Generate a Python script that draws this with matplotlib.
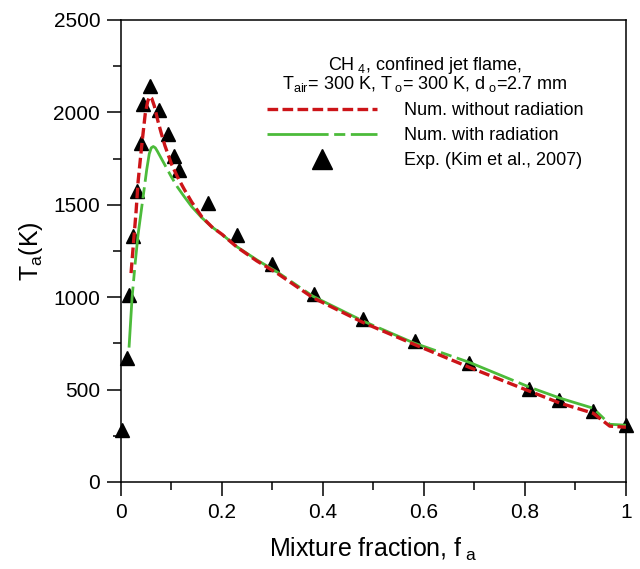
import numpy as np
import matplotlib
matplotlib.use("Agg")
import matplotlib.pyplot as plt
from matplotlib.ticker import MultipleLocator

plt.rcParams['font.family'] = ['Liberation Sans', 'DejaVu Sans']
plt.rcParams['mathtext.fontset'] = 'custom'
plt.rcParams['mathtext.rm'] = 'Liberation Sans'
plt.rcParams['mathtext.it'] = 'Liberation Sans'

# experiment (Kim et al., 2007)
exp_f = [0.002, 0.012, 0.016, 0.024, 0.032, 0.040, 0.044, 0.057, 0.075, 0.093,
         0.105, 0.115, 0.172, 0.230, 0.300, 0.382, 0.479, 0.582, 0.689, 0.808,
         0.867, 0.935, 1.0]
exp_T = [280, 670, 1010, 1330, 1575, 1835, 2045, 2140, 2015, 1880,
         1765, 1690, 1510, 1335, 1180, 1015, 884, 760, 641, 505,
         442, 383, 310]

# numerical, without radiation
norad_f = [0.020, 0.025, 0.030, 0.034, 0.042, 0.048, 0.053, 0.057, 0.061, 0.066,
           0.073, 0.080, 0.087, 0.100, 0.112, 0.125, 0.140, 0.160, 0.180, 0.200,
           0.230, 0.269, 0.309, 0.380, 0.480, 0.580, 0.690, 0.810, 0.870, 0.935,
           0.968, 1.0]
norad_T = [1130, 1300, 1465, 1627, 1843, 1990, 2060, 2085, 2075, 2035,
           1955, 1885, 1820, 1720, 1650, 1585, 1515, 1435, 1380, 1340,
           1270, 1196, 1130, 997, 862, 745, 620, 490, 426, 372,
           302, 296]

# numerical, with radiation
rad_f = [0.016, 0.022, 0.028, 0.034, 0.044, 0.051, 0.056, 0.060, 0.064, 0.068,
         0.072, 0.080, 0.090, 0.100, 0.112, 0.125, 0.140, 0.160, 0.180, 0.200,
         0.230, 0.270, 0.310, 0.380, 0.480, 0.580, 0.690, 0.810, 0.870, 0.935,
         0.968, 1.0]
rad_T = [727, 997, 1180, 1341, 1545, 1690, 1775, 1808, 1815, 1808,
         1790, 1750, 1700, 1650, 1595, 1545, 1490, 1430, 1380, 1340,
         1272, 1200, 1135, 1005, 870, 752, 647, 512, 453, 399,
         312, 307]

fig = plt.figure(figsize=(6.4, 5.69), dpi=100)
ax = fig.add_axes([0.189, 0.153, 0.789, 0.812])

ax.plot(exp_f, exp_T, linestyle='none', marker='^', ms=10, color='black',
        clip_on=False, zorder=2, label='Exp. (Kim et al., 2007)')
ax.plot(rad_f, rad_T, color='#4cbb3a', lw=2.0, dashes=(22, 2, 4, 2),
        zorder=3, label='Num. with radiation')
ax.plot(norad_f, norad_T, color='#cc1418', lw=2.4, dashes=(3.2, 1.3),
        zorder=4, label='Num. without radiation')

ax.set_xlim(0, 1)
ax.set_ylim(0, 2500)
ax.xaxis.set_major_locator(MultipleLocator(0.2))
ax.xaxis.set_minor_locator(MultipleLocator(0.1))
ax.yaxis.set_major_locator(MultipleLocator(500))
ax.yaxis.set_minor_locator(MultipleLocator(250))
ax.set_xticks([0, 0.2, 0.4, 0.6, 0.8, 1.0])
ax.set_xticklabels(['0', '0.2', '0.4', '0.6', '0.8', '1'])
ax.tick_params(which='major', direction='out', length=10, width=1.1, labelsize=15, pad=5)
ax.tick_params(which='minor', direction='out', length=6, width=1.1)
for s in ax.spines.values():
    s.set_linewidth(1.1)

ax.set_xlabel(r'Mixture fraction, f$_{\ \mathrm{a}}$', fontsize=18, labelpad=10)
ax.set_ylabel(r'T$_{\mathrm{a}}$(K)', fontsize=18, labelpad=6)

h, l = ax.get_legend_handles_labels()
order = [2, 1, 0]
title = ('CH$_{\\ 4}$, confined jet flame,\n'
         'T$_{\\mathrm{air}}$= 300 K, T$_{\\ \\mathrm{o}}$= 300 K, d$_{\\ \\mathrm{o}}$=2.7 mm')
leg = ax.legend([h[i] for i in order], [l[i] for i in order], loc='upper left',
                bbox_to_anchor=(0.289, 0.924), frameon=False, fontsize=13,
                title=title, title_fontsize=13, handlelength=6.1,
                handletextpad=1.5, labelspacing=0.45, borderpad=0,
                borderaxespad=0, markerscale=1.5)
leg.get_title().set_multialignment('center')
leg.get_title().set_linespacing(0.85)

fig.savefig('out.png', dpi=100)
